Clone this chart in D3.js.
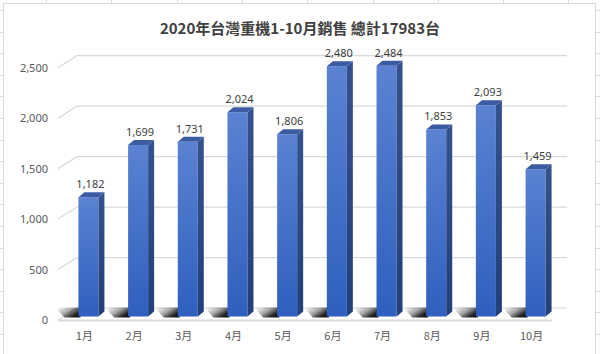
<!DOCTYPE html>
<html>
<head>
<meta charset="utf-8">
<script src="https://cdn.jsdelivr.net/npm/d3@7"></script>
<style>
  body { margin: 0; background: #fff; }
  svg { display: block; }
</style>
</head>
<body>
<svg id="chart" width="600" height="354"></svg>
<script>
// data
var months = ["1月", "2月", "3月", "4月", "5月", "6月", "7月", "8月", "9月", "10月"];
var sales = [1182, 1699, 1731, 2024, 1806, 2480, 2484, 1853, 2093, 1459];
var yTicks = [0, 500, 1000, 1500, 2000, 2500];
var title = "2020年台灣重機1-10月銷售 總計17983台";

var svg = d3.select("#chart");

// 3d box: front left corner and depth offset of the back wall
var x0 = 58, x1 = 552;
var depth = { dx: 19, dy: -12 };
var barDepth = { dx: 6, dy: -5 };
var barShift = -3.5;   // bar front plane sits a bit behind the floor front

var y = d3.scaleLinear()
    .domain([0, 2500])
    .range([320, 67.7]);

var x = d3.scaleBand()
    .domain(months)
    .range([x0 + 6, x0 + 6 + 496])
    .paddingInner(0.597)
    .paddingOuter(0.29);

var defs = svg.append("defs");

var front = defs.append("linearGradient")
    .attr("id", "barFront")
    .attr("x1", 0).attr("y1", 0).attr("x2", 0).attr("y2", 1);
front.append("stop").attr("offset", "0%").attr("stop-color", "#5b82d2");
front.append("stop").attr("offset", "100%").attr("stop-color", "#2f5fbf");

var side = defs.append("linearGradient")
    .attr("id", "barSide")
    .attr("x1", 0).attr("y1", 0).attr("x2", 0).attr("y2", 1);
side.append("stop").attr("offset", "0%").attr("stop-color", "#34528f");
side.append("stop").attr("offset", "100%").attr("stop-color", "#233f7a");

var shadow = defs.append("linearGradient")
    .attr("id", "shadow")
    .attr("x1", 0).attr("y1", 0.2).attr("x2", 1).attr("y2", 0.8);
shadow.append("stop").attr("offset", "0%").attr("stop-color", "#000").attr("stop-opacity", 0);
shadow.append("stop").attr("offset", "45%").attr("stop-color", "#000").attr("stop-opacity", 0.35);
shadow.append("stop").attr("offset", "80%").attr("stop-color", "#000").attr("stop-opacity", 0.85);
shadow.append("stop").attr("offset", "100%").attr("stop-color", "#000").attr("stop-opacity", 0.95);

// spreadsheet cells peeking round the chart
var sheet = svg.append("g")
    .attr("stroke", "#dcdcdc")
    .attr("stroke-width", 1);
sheet.selectAll(".vcell")
    .data(d3.range(46, 600, 65.3))
    .enter().append("line")
    .attr("x1", function(d) { return Math.round(d) + 0.5; })
    .attr("x2", function(d) { return Math.round(d) + 0.5; })
    .attr("y1", 0).attr("y2", 3);
sheet.selectAll(".hcell")
    .data(d3.range(10, 354, 21.6))
    .enter().append("line")
    .attr("x1", 0).attr("x2", 600)
    .attr("y1", function(d) { return Math.round(d) + 0.5; })
    .attr("y2", function(d) { return Math.round(d) + 0.5; });

// chart area
svg.append("rect")
    .attr("x", 3.5).attr("y", 3.5)
    .attr("width", 592).attr("height", 360)
    .attr("fill", "#fff")
    .attr("stroke", "#d9d9d9");

svg.append("text")
    .attr("x", 300)
    .attr("y", 34)
    .attr("text-anchor", "middle")
    .attr("font-family", "'Noto Sans CJK TC', 'Noto Sans', sans-serif")
    .attr("font-weight", "bold")
    .attr("font-size", 15)
    .attr("fill", "#404040")
    .text(title);

// gridlines on the side and back walls
var grid = svg.append("g")
    .attr("fill", "none")
    .attr("stroke", "#d9d9d9")
    .attr("stroke-width", 1.2);

grid.selectAll("polyline")
    .data(yTicks)
    .enter().append("polyline")
    .attr("points", function(d) {
        var yy = y(d);
        return [[x0, yy], [x0 + depth.dx, yy + depth.dy], [x1 + 15, yy + depth.dy]].join(" ");
    });

// floor front edge
svg.append("line")
    .attr("x1", x0).attr("x2", x1)
    .attr("y1", y(0) + 0.5).attr("y2", y(0) + 0.5)
    .attr("stroke", "#d9d9d9")
    .attr("stroke-width", 2);

// y axis labels
svg.append("g")
    .selectAll("text")
    .data(yTicks)
    .enter().append("text")
    .attr("x", 48)
    .attr("y", function(d) { return y(d) + 4; })
    .attr("text-anchor", "end")
    .attr("font-family", "'Noto Sans', sans-serif")
    .attr("font-size", 11)
    .attr("fill", "#595959")
    .text(d3.format(","));

var yb = function(v) { return y(v) + barShift; };

// shadows cast back-left on the floor
svg.append("g")
    .selectAll("polygon")
    .data(months)
    .enter().append("polygon")
    .attr("fill", "url(#shadow)")
    .attr("points", function(d) {
        var xl = x(d), b = yb(0);
        return [[xl - 14, b + 1], [xl + 2, b + 1], [xl + 2, b - 9], [xl - 23, b - 9]].join(" ");
    });

var bars = svg.append("g")
    .selectAll("g")
    .data(sales)
    .enter().append("g");

var w = x.bandwidth();

bars.append("rect")
    .attr("x", function(d, i) { return x(months[i]); })
    .attr("y", function(d) { return yb(d); })
    .attr("width", w)
    .attr("height", function(d) { return yb(0) - yb(d); })
    .attr("fill", "url(#barFront)");

bars.append("polygon")
    .attr("fill", "url(#barSide)")
    .attr("points", function(d, i) {
        var xr = x(months[i]) + w;
        return [[xr, yb(d)], [xr + barDepth.dx, yb(d) + barDepth.dy],
                [xr + barDepth.dx, yb(0) + barDepth.dy], [xr, yb(0)]].join(" ");
    });

bars.append("polygon")
    .attr("fill", "#3b5ba3")
    .attr("points", function(d, i) {
        var xl = x(months[i]), t = yb(d);
        return [[xl, t], [xl + barDepth.dx, t + barDepth.dy],
                [xl + w + barDepth.dx, t + barDepth.dy], [xl + w, t]].join(" ");
    });

// value labels
bars.append("text")
    .attr("x", function(d, i) { return x(months[i]) + w / 2 + 2; })
    .attr("y", function(d) { return yb(d) - 9; })
    .attr("text-anchor", "middle")
    .attr("font-family", "'Noto Sans', sans-serif")
    .attr("font-size", 11)
    .attr("fill", "#404040")
    .text(d3.format(","));

// month labels
svg.append("g")
    .selectAll("text")
    .data(months)
    .enter().append("text")
    .attr("x", function(d) { return x(d) + w / 2 - 4; })
    .attr("y", 340)
    .attr("text-anchor", "middle")
    .attr("font-family", "'Noto Sans CJK TC', 'Noto Sans', sans-serif")
    .attr("font-size", 11)
    .attr("fill", "#595959")
    .text(function(d) { return d; });
</script>
</body>
</html>
